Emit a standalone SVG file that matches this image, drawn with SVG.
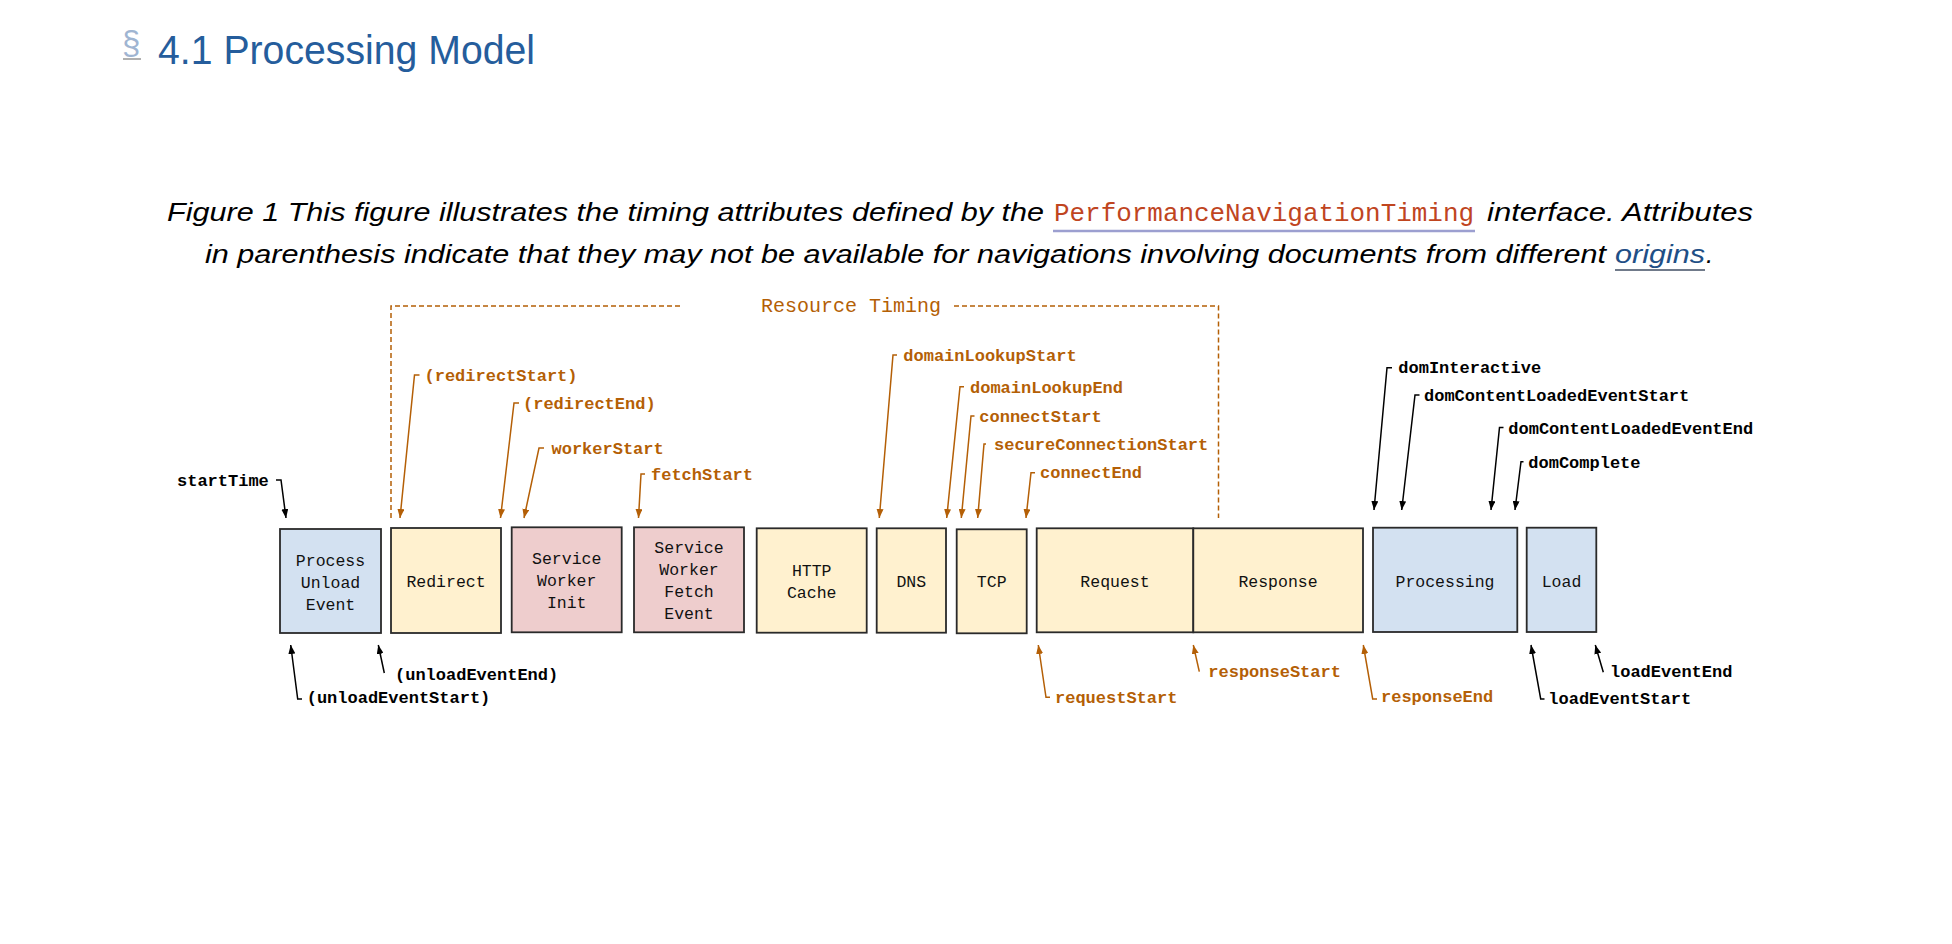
<svg xmlns="http://www.w3.org/2000/svg" width="1952" height="944" viewBox="0 0 1952 944">
<defs>
<style>
.box{stroke:#2a2a2a;stroke-width:1.8}
.blue{fill:#d3e1f1}
.yel{fill:#fff1cf}
.pink{fill:#eecdcd}
.bt{font-family:"Liberation Mono","DejaVu Sans Mono",monospace;font-size:16.5px;fill:#111;text-anchor:middle}
.lbl{font-family:"Liberation Mono","DejaVu Sans Mono",monospace;font-size:17px;font-weight:bold}
.or{fill:#b45f06}
.bk{fill:#000}
.lo{fill:none;stroke:#b45f06;stroke-width:1.5;marker-end:url(#ao)}
.lb{fill:none;stroke:#000;stroke-width:1.5;marker-end:url(#ab)}
.cap{font-family:"Liberation Sans","Helvetica",Arial,sans-serif;font-style:italic;font-size:26px;fill:#000}
</style>
<marker id="ao" markerUnits="userSpaceOnUse" markerWidth="9" markerHeight="7" refX="9" refY="3.5" orient="auto"><path d="M0,0 L9,3.5 L0,7 z" fill="#b45f06"/></marker>
<marker id="ab" markerUnits="userSpaceOnUse" markerWidth="9" markerHeight="7" refX="9" refY="3.5" orient="auto"><path d="M0,0 L9,3.5 L0,7 z" fill="#000"/></marker>
</defs>
<rect width="1952" height="944" fill="#fff"/>

<g id="heading">
<text x="122" y="54" font-family="Liberation Sans,Arial,sans-serif" font-size="33" fill="#9fb5d2">§</text>
<line x1="123" y1="59" x2="141" y2="59" stroke="#b0b0b0" stroke-width="2"/>
<text x="158" y="64" font-family="Liberation Sans,Arial,sans-serif" font-size="41" fill="#255d9c" textLength="377" lengthAdjust="spacingAndGlyphs">4.1 Processing Model</text>
</g>

<g id="caption">
<text class="cap" x="167" y="221" textLength="877" lengthAdjust="spacingAndGlyphs">Figure 1 This figure illustrates the timing attributes defined by the</text>
<text x="1054" y="221" font-family="Liberation Mono,DejaVu Sans Mono,monospace" font-size="26" fill="#c0451f" textLength="420" lengthAdjust="spacingAndGlyphs">PerformanceNavigationTiming</text>
<line x1="1053" y1="231" x2="1475" y2="231" stroke="#9c9fd0" stroke-width="2.5"/>
<text class="cap" x="1487" y="221" textLength="266" lengthAdjust="spacingAndGlyphs">interface. Attributes</text>
<text class="cap" x="205" y="263" textLength="1401" lengthAdjust="spacingAndGlyphs">in parenthesis indicate that they may not be available for navigations involving documents from different</text>
<text class="cap" x="1615" y="263" style="fill:#1f4f86" textLength="90" lengthAdjust="spacingAndGlyphs">origins</text>
<line x1="1615" y1="270" x2="1705" y2="270" stroke="#707a8a" stroke-width="2"/>
<text class="cap" x="1706" y="263">.</text>
</g>

<g id="resource-timing">
<path d="M391,518 V306 H681 M954,306 H1218.5 V518" fill="none" stroke="#b45f06" stroke-width="1.5" stroke-dasharray="5 3"/>
<text x="761" y="311.7" font-family="Liberation Mono,DejaVu Sans Mono,monospace" font-size="20" fill="#b45f06">Resource Timing</text>
</g>

<g id="node-process-unload">
<rect class="box blue" x="280" y="529" width="101" height="104"/>
<text class="bt" x="330.5" y="566">Process</text>
<text class="bt" x="330.5" y="588">Unload</text>
<text class="bt" x="330.5" y="610">Event</text>
</g>
<g id="node-redirect">
<rect class="box yel" x="391" y="528" width="110" height="105"/>
<text class="bt" x="446" y="587">Redirect</text>
</g>
<g id="node-sw-init">
<rect class="box pink" x="511.7" y="527.3" width="110" height="105"/>
<text class="bt" x="566.7" y="564">Service</text>
<text class="bt" x="566.7" y="586">Worker</text>
<text class="bt" x="566.7" y="608">Init</text>
</g>
<g id="node-sw-fetch">
<rect class="box pink" x="634" y="527.3" width="110" height="105"/>
<text class="bt" x="689" y="553">Service</text>
<text class="bt" x="689" y="575">Worker</text>
<text class="bt" x="689" y="597">Fetch</text>
<text class="bt" x="689" y="619">Event</text>
</g>
<g id="node-http-cache">
<rect class="box yel" x="756.7" y="528.3" width="110" height="104.4"/>
<text class="bt" x="811.7" y="576">HTTP</text>
<text class="bt" x="811.7" y="598">Cache</text>
</g>
<g id="node-dns">
<rect class="box yel" x="876.7" y="528.3" width="69.3" height="104.4"/>
<text class="bt" x="911.3" y="587">DNS</text>
</g>
<g id="node-tcp">
<rect class="box yel" x="956.7" y="529.3" width="70" height="104"/>
<text class="bt" x="991.7" y="587">TCP</text>
</g>
<g id="node-request">
<rect class="box yel" x="1036.7" y="528.3" width="156.6" height="104"/>
<text class="bt" x="1115" y="587">Request</text>
</g>
<g id="node-response">
<rect class="box yel" x="1193.3" y="528.3" width="169.7" height="104"/>
<text class="bt" x="1278" y="587">Response</text>
</g>
<g id="node-processing">
<rect class="box blue" x="1373" y="527.7" width="144.3" height="104.3"/>
<text class="bt" x="1445" y="587">Processing</text>
</g>
<g id="node-load">
<rect class="box blue" x="1526.7" y="527.7" width="69.6" height="104.3"/>
<text class="bt" x="1561.5" y="587">Load</text>
</g>

<g id="connectors">
<polyline class="lb" points="276,480 281,480 286,518"/>
<polyline class="lo" points="419.5,375 414.5,375 400,518"/>
<polyline class="lo" points="519,403 514,403 500.5,518"/>
<polyline class="lo" points="544,448 539,448 524,518"/>
<polyline class="lo" points="645,474 641,474 638.5,518"/>
<polyline class="lo" points="897,355 893,355 879.3,518"/>
<polyline class="lo" points="964,386.7 960,386.7 946.7,518"/>
<polyline class="lo" points="974.5,416 971,416 961.3,518"/>
<polyline class="lo" points="986,444 984,444 977.7,518"/>
<polyline class="lo" points="1035,472.7 1031,472.7 1026,518"/>
<polyline class="lb" points="1392,367.7 1387,367.7 1374,510"/>
<polyline class="lb" points="1419.5,395 1415,395 1401.7,510"/>
<polyline class="lb" points="1503.5,427.5 1499.5,427.5 1491,510"/>
<polyline class="lb" points="1523.5,461.7 1521,461.7 1515,510"/>
<polyline class="lb" points="302,699 297.7,699 290.7,645"/>
<polyline class="lb" points="384.3,673 378.3,645"/>
<polyline class="lo" points="1050,697.3 1046,697.3 1038.3,645"/>
<polyline class="lo" points="1199.3,671.7 1193.3,645"/>
<polyline class="lo" points="1377,699 1372.7,699 1363.3,645"/>
<polyline class="lb" points="1544.5,699 1540.7,699 1531,645"/>
<polyline class="lb" points="1603.3,672.3 1595.3,645"/>
</g>

<g id="labels">
<text class="lbl bk" x="177" y="486">startTime</text>
<text class="lbl or" x="424.5" y="381">(redirectStart)</text>
<text class="lbl or" x="523" y="409">(redirectEnd)</text>
<text class="lbl or" x="551.5" y="454">workerStart</text>
<text class="lbl or" x="651" y="480">fetchStart</text>
<text class="lbl or" x="903.3" y="360.7">domainLookupStart</text>
<text class="lbl or" x="970" y="392.7">domainLookupEnd</text>
<text class="lbl or" x="979.3" y="422.3">connectStart</text>
<text class="lbl or" x="994" y="450">secureConnectionStart</text>
<text class="lbl or" x="1040" y="478.3">connectEnd</text>
<text class="lbl bk" x="1398.3" y="372.7">domInteractive</text>
<text class="lbl bk" x="1424" y="400.7">domContentLoadedEventStart</text>
<text class="lbl bk" x="1508.3" y="434">domContentLoadedEventEnd</text>
<text class="lbl bk" x="1528.3" y="467.7">domComplete</text>
<text class="lbl bk" x="306.7" y="703">(unloadEventStart)</text>
<text class="lbl bk" x="395" y="680">(unloadEventEnd)</text>
<text class="lbl or" x="1055" y="702.7">requestStart</text>
<text class="lbl or" x="1208.3" y="676.7">responseStart</text>
<text class="lbl or" x="1381" y="702.3">responseEnd</text>
<text class="lbl bk" x="1548.3" y="704">loadEventStart</text>
<text class="lbl bk" x="1610" y="676.7">loadEventEnd</text>
</g>
</svg>
